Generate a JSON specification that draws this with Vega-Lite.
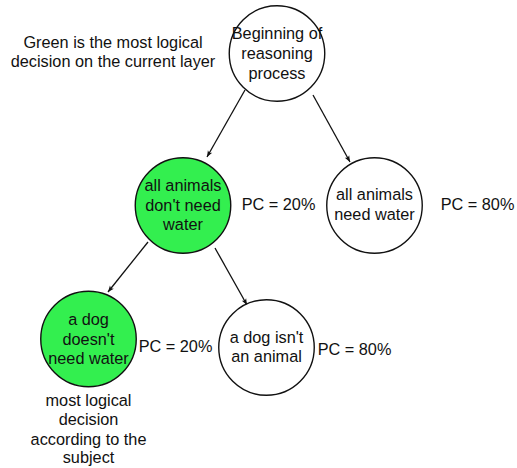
{
  "$schema": "https://vega.github.io/schema/vega-lite/v6.json",
  "width": 517,
  "height": 468,
  "autosize": {"type": "none"},
  "padding": 0,
  "background": "white",
  "config": {"view": {"stroke": null}},
  "datasets": {
    "nodes": [
      {"id": "Beginning of reasoning process", "x": 277, "y": 53.5, "best": "no"},
      {"id": "all animals don't need water", "x": 183, "y": 205.5, "best": "yes"},
      {"id": "all animals need water", "x": 374.5, "y": 205.5, "best": "no"},
      {"id": "a dog doesn't need water", "x": 88.5, "y": 339, "best": "yes"},
      {"id": "a dog isn't an animal", "x": 266.5, "y": 347.5, "best": "no"}
    ],
    "edges": [
      {"x": 245, "y": 90, "x2": 207, "y2": 157, "dir": 209.6},
      {"x": 313, "y": 95, "x2": 350, "y2": 162, "dir": 151.1},
      {"x": 148, "y": 242, "x2": 108, "y2": 292, "dir": 218.7},
      {"x": 215, "y": 248, "x2": 247, "y2": 305, "dir": 150.7}
    ],
    "lines": [
      {"text": "Beginning of", "x": 277, "y": 34},
      {"text": "reasoning", "x": 277, "y": 54},
      {"text": "process", "x": 277, "y": 74},
      {"text": "all animals", "x": 183, "y": 186},
      {"text": "don't need", "x": 183, "y": 205.5},
      {"text": "water", "x": 183, "y": 225},
      {"text": "all animals", "x": 374.5, "y": 195},
      {"text": "need water", "x": 374.5, "y": 215},
      {"text": "a dog", "x": 88.5, "y": 320},
      {"text": "doesn't", "x": 88.5, "y": 339.5},
      {"text": "need water", "x": 88.5, "y": 359},
      {"text": "a dog isn't", "x": 266.5, "y": 338},
      {"text": "an animal", "x": 266.5, "y": 357},
      {"text": "Green is the most logical", "x": 113, "y": 43},
      {"text": "decision on the current layer", "x": 113, "y": 62},
      {"text": "PC = 20%", "x": 278.5, "y": 205},
      {"text": "PC = 80%", "x": 477.5, "y": 205},
      {"text": "PC = 20%", "x": 175.5, "y": 347},
      {"text": "PC = 80%", "x": 354.5, "y": 350},
      {"text": "most logical", "x": 88.5, "y": 401},
      {"text": "decision", "x": 88.5, "y": 420},
      {"text": "according to the", "x": 88.5, "y": 440},
      {"text": "subject", "x": 88.5, "y": 458}
    ]
  },
  "encoding": {
    "x": {"field": "x", "type": "quantitative", "scale": {"domain": [0, 517], "nice": false, "zero": false}, "axis": null},
    "y": {"field": "y", "type": "quantitative", "scale": {"domain": [0, 468], "nice": false, "zero": false, "reverse": true}, "axis": null}
  },
  "layer": [
    {
      "data": {"name": "edges"},
      "mark": {"type": "rule", "stroke": "#111111", "strokeWidth": 1.3},
      "encoding": {
        "x2": {"field": "x2"},
        "y2": {"field": "y2"}
      }
    },
    {
      "data": {"name": "edges"},
      "mark": {"type": "point", "shape": "M0,0L-0.42,1.05L0,0.8L0.42,1.05Z", "filled": true, "fill": "#111111", "stroke": null, "size": 140, "opacity": 1},
      "encoding": {
        "x": {"field": "x2", "type": "quantitative"},
        "y": {"field": "y2", "type": "quantitative"},
        "angle": {"field": "dir", "type": "quantitative", "scale": null}
      }
    },
    {
      "data": {"name": "nodes"},
      "mark": {"type": "point", "shape": "circle", "filled": true, "size": 9120, "stroke": "#111111", "strokeWidth": 1.4, "opacity": 1},
      "encoding": {
        "fill": {"field": "best", "type": "nominal", "scale": {"domain": ["yes", "no"], "range": ["#33ef4f", "#ffffff"]}, "legend": null}
      }
    },
    {
      "data": {"name": "lines"},
      "mark": {"type": "text", "font": "Liberation Sans", "fontSize": 16.3, "align": "center", "baseline": "middle", "fill": "#111111"},
      "encoding": {"text": {"field": "text"}}
    }
  ]
}
